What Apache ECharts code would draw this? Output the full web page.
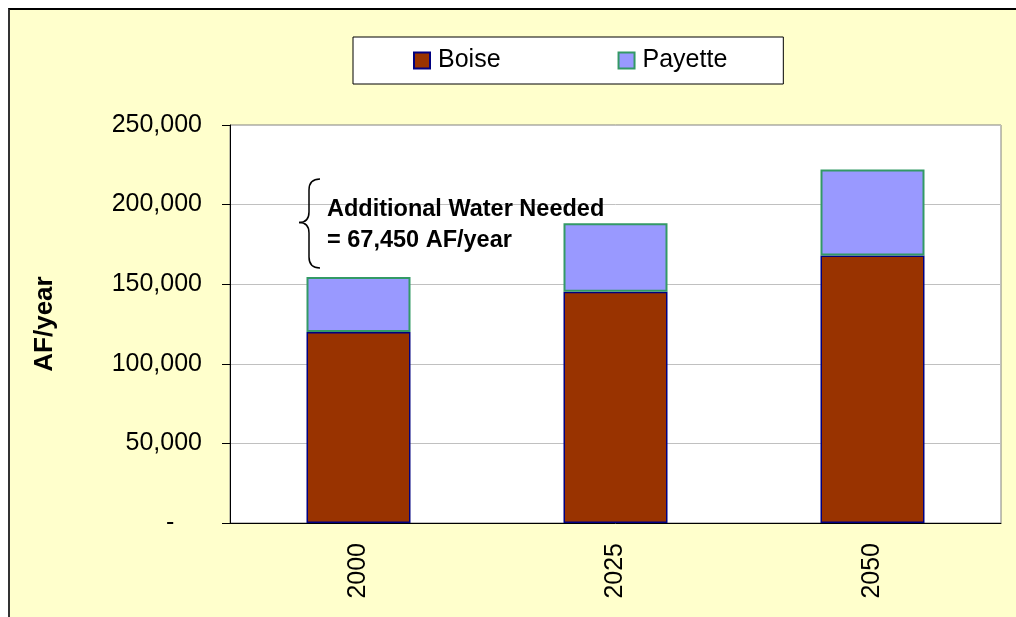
<!DOCTYPE html>
<html>
<head>
<meta charset="utf-8">
<script src="https://cdn.jsdelivr.net/npm/echarts@6/dist/echarts.min.js"></script>
<style>
	html, body { margin: 0; padding: 0; background: #fff; }
	#frame { position: absolute; left: 8px; top: 8px; width: 1100px; height: 700px;
		background: #FFFFCC; border-top: 2px solid #000; border-left: 2px solid #333; }
	#main { position: absolute; left: 0; top: 0; width: 1016px; height: 617px; }
</style>
</head>
<body>
<div id="frame"></div>
<div id="main"></div>
<script>
// data
var years = ['2000', '2025', '2050'];
var boise = [120000, 145300, 168000];
var payette = [34550, 43000, 54000];
var yTicks = { min: 0, max: 250000, step: 50000 };

var FONT = "'Liberation Sans', Arial, sans-serif";

function fmtNum(v) {
	if (v === 0) return '-    ';
	return String(v).replace(/\B(?=(\d{3})+(?!\d))/g, ',');
}

// brace pieces (annotation only)
var braceStyle = { fill: null, stroke: '#000', lineWidth: 1.5 };
function curve(x1, y1, cx, cy, x2, y2) {
	return { type: 'bezierCurve', z: 100, shape: { x1: x1, y1: y1, cpx1: cx, cpy1: cy, x2: x2, y2: y2 }, style: braceStyle };
}
function seg(x1, y1, x2, y2) {
	return { type: 'line', z: 100, shape: { x1: x1, y1: y1, x2: x2, y2: y2 }, style: braceStyle };
}

var chart = echarts.init(document.getElementById('main'));

var option = {
	animation: false,
	textStyle: { fontFamily: FONT },
	legend: {
		left: 353,
		top: 37,
		padding: [11, 56, 11, 60],
		itemGap: 117,
		itemWidth: 16,
		itemHeight: 16,
		icon: 'rect',
		backgroundColor: '#fff',
		borderColor: '#000',
		borderWidth: 1,
		textStyle: { fontSize: 25, color: '#000', fontFamily: FONT, padding: [0, 0, 0, 3] },
		data: ['Boise', 'Payette']
	},
	grid: {
		left: 230,
		top: 125,
		right: 15,
		bottom: 94,
		show: true,
		backgroundColor: '#fff',
		borderColor: '#808080',
		borderWidth: 1
	},
	xAxis: {
		type: 'category',
		data: years,
		axisLine: { lineStyle: { color: '#000', width: 1 } },
		axisTick: { length: 9, lineStyle: { color: '#000' } },
		axisLabel: { rotate: 90, margin: 20, fontSize: 25, color: '#000', fontFamily: FONT }
	},
	yAxis: {
		type: 'value',
		min: yTicks.min,
		max: yTicks.max,
		interval: yTicks.step,
		name: 'AF/year',
		nameLocation: 'middle',
		nameGap: 172,
		nameTextStyle: { fontSize: 26, fontWeight: 'bold', color: '#000', fontFamily: FONT },
		axisLine: { show: true, lineStyle: { color: '#000', width: 1 } },
		axisTick: { show: true, length: 8, lineStyle: { color: '#000' } },
		splitLine: { lineStyle: { color: '#c0c0c0', width: 1 } },
		axisLabel: { margin: 28, fontSize: 25, color: '#000', fontFamily: FONT, formatter: fmtNum }
	},
	series: [{
		name: 'Boise',
		type: 'bar',
		stack: 'total',
		barWidth: 104,
		itemStyle: { color: '#993300', borderColor: '#000080', borderWidth: 1.5 },
		data: boise
	}, {
		name: 'Payette',
		type: 'bar',
		stack: 'total',
		barWidth: 104,
		itemStyle: { color: '#9999FF', borderColor: '#339966', borderWidth: 2 },
		data: payette
	}],
	graphic: [
		curve(320, 179, 309, 179, 309, 190),
		seg(309, 190, 309, 212),
		curve(309, 212, 309, 222.5, 299, 222.5),
		curve(299, 222.5, 309, 222.5, 309, 233),
		seg(309, 233, 309, 257),
		curve(309, 257, 309, 268, 320, 268),
		{
			type: 'text',
			left: 327,
			top: 194,
			z: 100,
			style: {
				text: 'Additional Water Needed\n= 67,450 AF/year',
				font: "bold 23.5px 'Liberation Sans', Arial, sans-serif",
				lineHeight: 31,
				fill: '#000'
			}
		}
	]
};

chart.setOption(option);
</script>
</body>
</html>
